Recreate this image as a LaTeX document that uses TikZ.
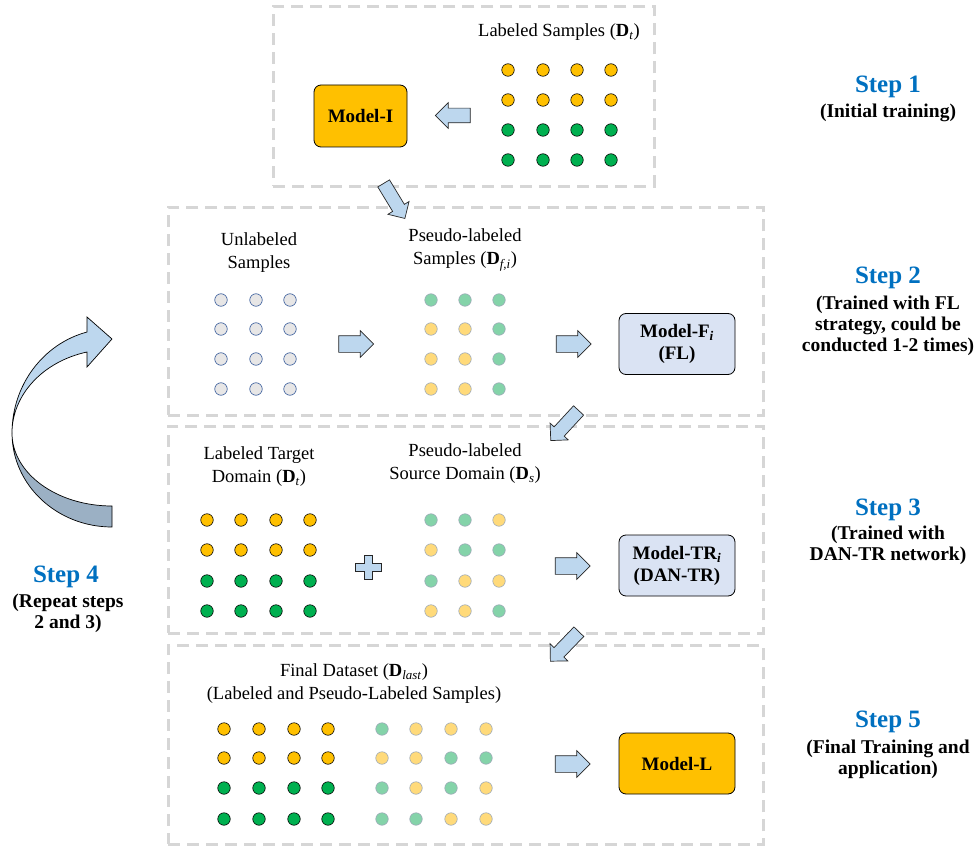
\documentclass[tikz,border=0pt]{standalone}
\usepackage{amsmath}
\usepackage{fontspec}
\setmainfont{Liberation Serif}
\usepackage{tikz}
\usepackage{xcolor}
\usetikzlibrary{shapes.arrows, positioning}
\definecolor{orangef}{HTML}{FFC000}
\definecolor{greenf}{HTML}{00B050}
\definecolor{grayf}{HTML}{E7E6E6}
\definecolor{navyo}{HTML}{2F5597}
\definecolor{pgreenf}{HTML}{84D3A9}
\definecolor{pyellowf}{HTML}{FFDA7A}
\definecolor{pline}{HTML}{9DA9B8}
\definecolor{arrowf}{HTML}{BDD7EE}
\definecolor{backf}{HTML}{9BB0C4}
\definecolor{modelf}{HTML}{DAE3F3}
\definecolor{panelc}{HTML}{D6D6D6}
\definecolor{stepblue}{HTML}{0070C0}
\newcommand{\labfont}{\fontsize{18.5}{23}\selectfont}
\newcommand{\modfont}{\fontsize{19}{22}\selectfont\bfseries}
\newcommand{\steptitlefont}{\fontsize{25}{28}\selectfont\bfseries}
\newcommand{\stepnotefont}{\fontsize{19.5}{21}\selectfont\bfseries}
\newcommand{\dset}[1]{\textbf{D}\textsubscript{\textit{#1}}}
\tikzset{
  panel/.style={draw=panelc, line width=2.6pt, dash pattern=on 12pt off 7pt, anchor=north west, inner sep=0pt},
  dot/.style={circle, minimum size=12.5pt, inner sep=0pt, line width=0.6pt},
  dorange/.style={dot, draw=black, fill=orangef},
  dgreen/.style={dot, draw=black, fill=greenf},
  dunl/.style={dot, draw=navyo, fill=grayf},
  dpg/.style={dot, draw=pline, fill=pgreenf},
  dpy/.style={dot, draw=pline, fill=pyellowf},
  model/.style={draw=black, rounded corners=7pt, line width=0.8pt, align=center, font=\modfont,
                inner sep=0pt, minimum width=116pt, minimum height=61pt},
  barr/.style={single arrow, draw=black!85, fill=arrowf, line width=0.7pt, inner xsep=0pt, inner ysep=8pt,
               single arrow head extend=5pt, minimum height=35pt},
  darr/.style={barr, inner ysep=6.5pt, single arrow head extend=5.5pt, minimum height=41pt},
  plus/.style={draw=black!85, fill=arrowf, line width=0.7pt},
  lbl/.style={align=center, font=\labfont, inner sep=0pt},
  stitle/.style={font=\steptitlefont, text=stepblue, inner sep=0pt},
  snote/.style={align=center, font=\stepnotefont, inner sep=0pt},
}

\begin{document}
\begin{tikzpicture}[x=1pt, y=1pt]
  \useasboundingbox (0,0) rectangle (975,-848);
  % ---------------- panels ----------------
  \node[panel, minimum width=381pt, minimum height=180pt] (p1) at (272,-5) {};
  \node[panel, minimum width=595pt, minimum height=208pt] (p2) at (167,-206) {};
  \node[panel, minimum width=595pt, minimum height=207pt] (p3) at (167,-425) {};
  \node[panel, minimum width=595pt, minimum height=199pt] (p4) at (167,-644) {};

  % ---------------- step 1 ----------------
  \node[lbl] (t1) at (559,-32) {Labeled Samples (\dset{t})};
  \foreach \y/\s in {70/dorange, 100/dorange, 130/dgreen, 160/dgreen}
    \foreach \x [count=\i] in {508,543,577,611}
      \node[\s] (la\i-\y) at (\x,-\y) {};
  \node[barr, rotate=180, inner ysep=7pt, single arrow head extend=5.5pt] (a1) at (456.5,-115.5) {};
  \node[model, fill=orangef, minimum width=93pt, minimum height=62pt] (mI) at (360.5,-116) {Model-I};
  \node[darr, rotate=-58.8] (d1) at (392.5,-198) {};

  % ---------------- step 2 ----------------
  \node[lbl] (t2a) at (259,-253) {Unlabeled\\Samples};
  \foreach \y in {300,329,359,389}
    \foreach \x [count=\i] in {221,256,290}
      \node[dunl] (ul\i-\y) at (\x,-\y) {};
  \node[barr] (a2) at (352,-344) {};
  \node[lbl] (t2b) at (465,-250) {Pseudo-labeled\\Samples (\dset{f,i})};
  \foreach \y/\a/\b/\c in {300/dpg/dpg/dpg, 329/dpy/dpy/dpg, 359/dpy/dpy/dpg, 389/dpy/dpy/dpg}
  {
    \node[\a] (pf1-\y) at (431,-\y) {};
    \node[\b] (pf2-\y) at (465,-\y) {};
    \node[\c] (pf3-\y) at (499,-\y) {};
  }
  \node[barr] (a3) at (569.5,-344) {};
  \node[model, fill=modelf] (mF) at (677,-344) {Model-F\textsubscript{\textit{i}}\\(FL)};
  \node[darr, rotate=-132.7] (d2) at (567,-423) {};

  % ---------------- step 3 ----------------
  \node[lbl] (t3a) at (259,-467) {Labeled Target\\Domain (\dset{t})};
  \foreach \y/\s in {520/dorange, 550/dorange, 581/dgreen, 611/dgreen}
    \foreach \x [count=\i] in {207,241,276,310}
      \node[\s] (lt\i-\y) at (\x,-\y) {};
  \node[lbl] (t3b) at (465,-464) {Pseudo-labeled\\Source Domain (\dset{s})};
  \foreach \y/\a/\b/\c in {520/dpg/dpg/dpy, 550/dpy/dpg/dpg, 581/dpg/dpy/dpy, 611/dpy/dpy/dpg}
  {
    \node[\a] (ps1-\y) at (431,-\y) {};
    \node[\b] (ps2-\y) at (465,-\y) {};
    \node[\c] (ps3-\y) at (499,-\y) {};
  }
  \draw[plus] (364,-555) -- (372,-555) -- (372,-563) -- (381,-563) -- (381,-571) -- (372,-571)
    -- (372,-579) -- (364,-579) -- (364,-571) -- (355,-571) -- (355,-563) -- (364,-563) -- cycle;
  \node[barr] (a4) at (568.5,-566) {};
  \node[model, fill=modelf] (mTR) at (677,-565.5) {Model-TR\textsubscript{\textit{i}}\\(DAN-TR)};
  \node[darr, rotate=-134] (d3) at (567,-644) {};

  % ---------------- step 5 ----------------
  \node[lbl] (t5) at (354,-684) {Final Dataset (\dset{last})\\(Labeled and Pseudo-Labeled Samples)};
  \foreach \y/\s in {729/dorange, 758/dorange, 788/dgreen, 819/dgreen}
    \foreach \x [count=\i] in {224,259,294,328}
      \node[\s] (fl\i-\y) at (\x,-\y) {};
  \foreach \y/\a/\b/\c/\d in {729/dpg/dpy/dpy/dpy, 758/dpy/dpy/dpg/dpg, 788/dpg/dpy/dpg/dpy, 819/dpg/dpg/dpy/dpy}
  {
    \node[\a] (fp1-\y) at (382,-\y) {};
    \node[\b] (fp2-\y) at (416,-\y) {};
    \node[\c] (fp3-\y) at (451,-\y) {};
    \node[\d] (fp4-\y) at (486,-\y) {};
  }
  \node[barr] (a5) at (568.5,-764) {};
  \node[model, fill=orangef] (mL) at (677,-763.5) {Model-L};

  % ---------------- step 4: loop arrow ----------------
  \filldraw[fill=backf, draw=black, line width=0.7pt] (12,-433)
    arc[start angle=180, end angle=270, x radius=100, y radius=94] -- (112,-506)
    arc[start angle=270, end angle=180, x radius=100, y radius=73] -- cycle;
  \filldraw[fill=arrowf, draw=black, line width=0.7pt] (12,-433)
    arc[start angle=180, end angle=104.48, x radius=100, y radius=104.3]
    -- (87,-317) -- (112,-339) -- (87,-367) -- (87,-352)
    arc[start angle=104.48, end angle=180, x radius=100, y radius=83.7] -- cycle;

  % ---------------- step labels ----------------
  \node[stitle] (s1) at (888,-87) {Step 1};
  \node[snote] (s1n) at (888,-113) {(Initial training)};
  \node[stitle] (s2) at (888,-278) {Step 2};
  \node[snote] (s2n) at (888,-326) {(Trained with FL\\strategy, could be\\conducted 1-2 times)};
  \node[stitle] (s3) at (888,-510) {Step 3};
  \node[snote] (s3n) at (888,-545) {(Trained with\\DAN-TR network)};
  \node[stitle] (s4) at (66,-577) {Step 4};
  \node[snote] (s4n) at (68,-613) {(Repeat steps\\2 and 3)};
  \node[stitle] (s5) at (888,-722) {Step 5};
  \node[snote] (s5n) at (888,-759) {(Final Training and\\application)};
\end{tikzpicture}
\end{document}
